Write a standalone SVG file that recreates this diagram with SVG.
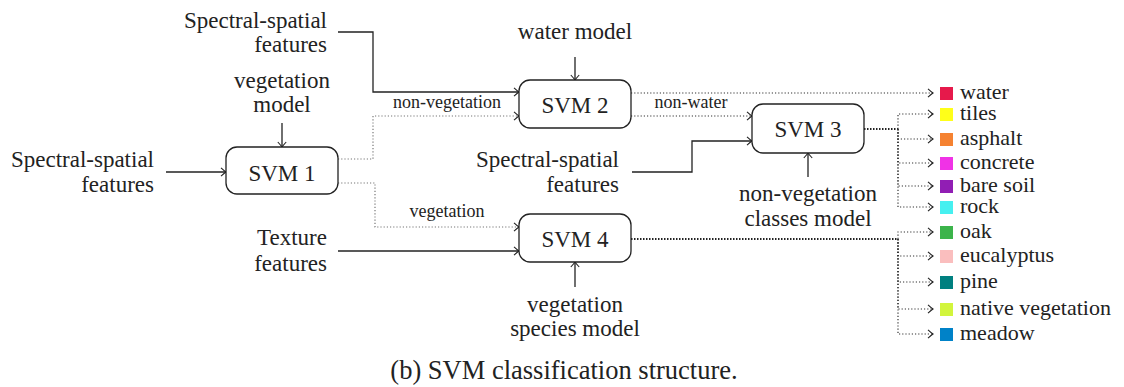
<svg xmlns="http://www.w3.org/2000/svg" width="1124" height="387" viewBox="0 0 1124 387" font-family="Liberation Serif, serif">
<style>
text{fill:#222;font-size:23px}
.sm{font-size:18px}
.lb{font-size:22px}
.cap{font-size:26.5px}
.box{fill:#fff;stroke:#222;stroke-width:1.3}
.ln{fill:none;stroke:#222;stroke-width:1.3}
.dt{fill:none;stroke:#333;stroke-width:1.2;stroke-dasharray:1.2 2}
.dtg{fill:none;stroke:#777;stroke-width:1.2;stroke-dasharray:1.2 2}
.dtk{fill:none;stroke:#222;stroke-width:1.8;stroke-dasharray:1.5 1.5}
.mid{text-anchor:middle}
.end{text-anchor:end}
</style>
<defs>
<marker id="ar" viewBox="-6 -5 7 10" markerWidth="7" markerHeight="10" refX="0" refY="0" orient="auto" markerUnits="userSpaceOnUse">
<path d="M-5,-4.2 Q-1.5,-1 0,0 Q-1.5,1 -5,4.2" fill="none" stroke="#222" stroke-width="1.1"/>
</marker>
</defs>
<g id="connectors">
<path class="ln" d="M338,32 H373 V92 H519" marker-end="url(#ar)"/>
<path class="dtg" d="M338,159 H373 V116 H519" marker-end="url(#ar)"/>
<path class="dtg" d="M338,183 H375 V227 H519" marker-end="url(#ar)"/>
<path class="ln" d="M166,172 H226" marker-end="url(#ar)"/>
<path class="ln" d="M282,123 V147" marker-end="url(#ar)"/>
<path class="ln" d="M575,57 V80" marker-end="url(#ar)"/>
<path class="dt" d="M631,93 H933" marker-end="url(#ar)"/>
<path class="dt" d="M631,116 H752" marker-end="url(#ar)"/>
<path class="ln" d="M632,172 H692 V141 H752" marker-end="url(#ar)"/>
<path class="ln" d="M808,177 V153" marker-end="url(#ar)"/>
<path class="ln" d="M338,251 H519" marker-end="url(#ar)"/>
<path class="ln" d="M575,287 V262" marker-end="url(#ar)"/>
<path class="dtk" d="M864,129 H898"/>
<path class="dt" d="M898,129 V114 H933" marker-end="url(#ar)"/>
<path class="dt" d="M898,129 V139 H933" marker-end="url(#ar)"/>
<path class="dt" d="M898,129 V163 H933" marker-end="url(#ar)"/>
<path class="dt" d="M898,129 V186 H933" marker-end="url(#ar)"/>
<path class="dt" d="M898,129 V207 H933" marker-end="url(#ar)"/>
<path class="dtk" d="M631,239 H898"/>
<path class="dt" d="M898,239 V232 H933" marker-end="url(#ar)"/>
<path class="dt" d="M898,239 V256 H933" marker-end="url(#ar)"/>
<path class="dt" d="M898,239 V282 H933" marker-end="url(#ar)"/>
<path class="dt" d="M898,239 V309 H933" marker-end="url(#ar)"/>
<path class="dt" d="M898,239 V334 H933" marker-end="url(#ar)"/>
<text class="sm mid" x="447" y="108">non-vegetation</text>
<text class="sm mid" x="447" y="217">vegetation</text>
<text class="sm mid" x="691" y="108">non-water</text>
</g>
<g id="svm1"><rect class="box" x="226" y="147" width="112" height="47" rx="11"/><text class="mid" x="282" y="181">SVM 1</text></g>
<g id="svm2"><rect class="box" x="519" y="80" width="112" height="48" rx="11"/><text class="mid" x="575" y="113">SVM 2</text></g>
<g id="svm3"><rect class="box" x="752" y="104" width="112" height="49" rx="11"/><text class="mid" x="808" y="137">SVM 3</text></g>
<g id="svm4"><rect class="box" x="519" y="214" width="112" height="48" rx="11"/><text class="mid" x="575" y="247">SVM 4</text></g>
<g id="in-ss-top"><text class="end" x="327" y="28">Spectral-spatial</text><text class="end" x="327" y="52">features</text></g>
<g id="in-veg-model"><text class="mid" x="282" y="88">vegetation</text><text class="mid" x="282" y="112">model</text></g>
<g id="in-ss-left"><text class="end" x="154" y="167">Spectral-spatial</text><text class="end" x="154" y="192">features</text></g>
<g id="in-water-model"><text class="mid" x="575" y="39">water model</text></g>
<g id="in-ss-mid"><text class="end" x="619" y="167">Spectral-spatial</text><text class="end" x="619" y="192">features</text></g>
<g id="in-nonveg-model"><text class="mid" x="808" y="201">non-vegetation</text><text class="mid" x="808" y="226">classes model</text></g>
<g id="in-texture"><text class="end" x="327" y="245">Texture</text><text class="end" x="327" y="271">features</text></g>
<g id="in-species-model"><text class="mid" x="575" y="312">vegetation</text><text class="mid" x="575" y="336">species model</text></g>
<g id="classes">
<rect x="940" y="87" width="13" height="13" fill="#e6194b"/><text class="lb" x="960" y="99">water</text>
<rect x="940" y="108" width="13" height="13" fill="#ffff19"/><text class="lb" x="960" y="120">tiles</text>
<rect x="940" y="133" width="13" height="13" fill="#f58231"/><text class="lb" x="960" y="145">asphalt</text>
<rect x="940" y="157" width="13" height="13" fill="#f032e6"/><text class="lb" x="960" y="169">concrete</text>
<rect x="940" y="180" width="13" height="13" fill="#911eb4"/><text class="lb" x="960" y="192">bare soil</text>
<rect x="940" y="201" width="13" height="13" fill="#46f0f0"/><text class="lb" x="960" y="213">rock</text>
<rect x="940" y="226" width="13" height="13" fill="#3cb44b"/><text class="lb" x="960" y="238">oak</text>
<rect x="940" y="250" width="13" height="13" fill="#fabebe"/><text class="lb" x="960" y="262">eucalyptus</text>
<rect x="940" y="276" width="13" height="13" fill="#008080"/><text class="lb" x="960" y="288">pine</text>
<rect x="940" y="303" width="13" height="13" fill="#d2f53c"/><text class="lb" x="960" y="315">native vegetation</text>
<rect x="940" y="328" width="13" height="13" fill="#0082c8"/><text class="lb" x="960" y="340">meadow</text>
</g>
<text class="mid cap" x="564" y="379">(b) SVM classification structure.</text>
</svg>
